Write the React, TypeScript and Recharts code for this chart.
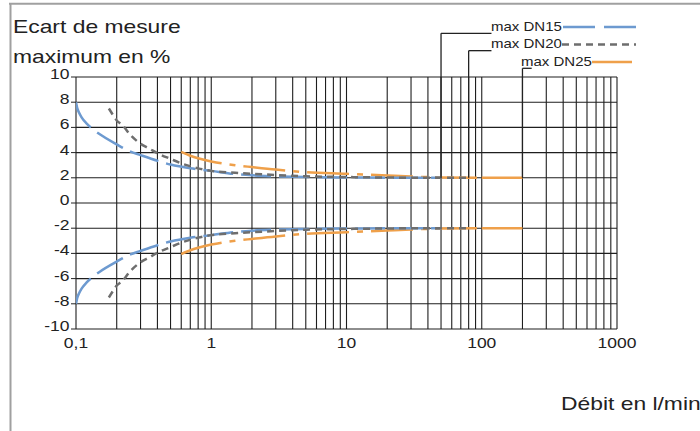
import React from "react";
import {
  LineChart,
  Line,
  XAxis,
  YAxis,
  CartesianGrid,
  ReferenceLine,
} from "recharts";

const FONT = '"Liberation Sans", Arial, Helvetica, sans-serif';

// grid positions on the log axis
const gridX = [
  0.1, 0.2, 0.3, 0.4, 0.5, 0.6, 0.7, 0.8, 0.9,
  1, 2, 3, 4, 5, 6, 7, 8, 9,
  10, 20, 30, 40, 50, 60, 70, 80, 90,
  100, 200, 300, 400, 500, 600, 700, 800, 900,
  1000,
];
const majorTicks = [0.1, 1, 10, 100, 1000];
const majorLabels = ["0,1", "1", "10", "100", "1000"];
const yTicks = [-10, -8, -6, -4, -2, 0, 2, 4, 6, 8, 10];

// DN15
const blueX = [0.1, 0.102, 0.105, 0.11, 0.12, 0.13, 0.15, 0.2, 0.25, 0.3, 0.4, 0.5, 0.7, 1, 1.5, 2, 3, 5, 10, 20, 50];
const blueUp = [8, 7.55, 7.2, 6.8, 6.3, 5.95, 5.45, 4.65, 4.1, 3.8, 3.35, 3.05, 2.75, 2.55, 2.3, 2.2, 2.12, 2.06, 2.03, 2.01, 2.0];
const blueDown = [-8, -7.55, -7.2, -6.8, -6.3, -5.95, -5.45, -4.65, -4.1, -3.8, -3.35, -3.05, -2.75, -2.55, -2.3, -2.2, -2.12, -2.06, -2.03, -2.01, -2.0];

// DN20
const grayX = [0.175, 0.19, 0.2, 0.22, 0.25, 0.3, 0.35, 0.4, 0.5, 0.6, 0.8, 1, 1.5, 2, 3, 5, 10, 20, 40, 80];
const grayUp = [7.5, 6.9, 6.55, 6.2, 5.45, 4.7, 4.3, 3.95, 3.5, 3.15, 2.75, 2.55, 2.4, 2.32, 2.22, 2.12, 2.06, 2.02, 2.0, 2.0];
const grayDown = [-7.5, -6.9, -6.55, -6.2, -5.45, -4.7, -4.3, -3.95, -3.5, -3.15, -2.75, -2.55, -2.4, -2.32, -2.22, -2.12, -2.06, -2.02, -2.0, -2.0];

// DN25
const orangeX = [0.6, 0.7, 0.8, 1, 1.5, 2, 3, 5, 10, 20, 30, 50, 100];
const orangeUp = [4.05, 3.75, 3.55, 3.3, 3.0, 2.85, 2.65, 2.45, 2.32, 2.18, 2.1, 2.03, 2.0];
const orangeDown = [-4.05, -3.75, -3.55, -3.3, -3.0, -2.85, -2.65, -2.45, -2.32, -2.18, -2.1, -2.03, -2.0];
const orangeTailX = [100, 200];
const orangeTailUp = [2, 2];
const orangeTailDown = [-2, -2];

const BLUE = "#6d9ad0";
const GRAY = "#6e6e6e";
const ORANGE = "#efa04a";
const INK = "#222";

const toPoints = (xs: number[], ys: number[]) => xs.map((x, i) => ({ x, y: ys[i] }));

const YTick = (props: any) => {
  const { x, y, payload } = props;
  return (
    <g transform={`translate(${x},${y + 2})`}>
      <text textAnchor="end" transform="scale(1.25,1)" fontSize={14} fill={INK} fontFamily={FONT}>
        {payload.value}
      </text>
    </g>
  );
};

const XTick = (props: any) => {
  const { x, y, payload } = props;
  const i = majorTicks.indexOf(payload.value);
  if (i < 0) return <g />;
  return (
    <g transform={`translate(${x},${y + 19})`}>
      <text textAnchor="middle" transform="scale(1.25,1)" fontSize={14} fill={INK} fontFamily={FONT}>
        {majorLabels[i]}
      </text>
    </g>
  );
};

export default function App() {
  const lineProps = { dataKey: "y", dot: false, activeDot: false, isAnimationActive: false, type: "monotone" as const, strokeWidth: 2.5 };
  const leader = { stroke: INK, strokeWidth: 1.3, ifOverflow: "visible" as const };
  return (
    <div style={{ position: "absolute", left: 0, top: 0, width: 700, height: 431, background: "#fff" }}>
      <LineChart width={700} height={431} margin={{ top: 77, right: 83, bottom: 72, left: 10 }}>
        <CartesianGrid stroke="#1e1e1e" strokeWidth={1.1} />
        <XAxis
          dataKey="x"
          type="number"
          scale="log"
          domain={[0.1, 1000]}
          ticks={gridX}
          interval={0}
          allowDataOverflow
          axisLine={false}
          tickLine={false}
          tickSize={0}
          tickMargin={0}
          height={30}
          tick={<XTick />}
        />
        <YAxis
          type="number"
          domain={[-10, 10]}
          ticks={yTicks}
          interval={0}
          allowDataOverflow
          axisLine={false}
          tickLine={{ stroke: INK }}
          tickSize={5}
          tickMargin={1.5}
          width={66}
          tick={<YTick />}
        />
        <Line {...lineProps} data={toPoints(orangeX, orangeUp)} stroke={ORANGE} strokeDasharray="42 8 6 8" />
        <Line {...lineProps} data={toPoints(orangeX, orangeDown)} stroke={ORANGE} strokeDasharray="42 8 6 8" />
        <Line {...lineProps} data={toPoints(orangeTailX, orangeTailUp)} stroke={ORANGE} />
        <Line {...lineProps} data={toPoints(orangeTailX, orangeTailDown)} stroke={ORANGE} />
        <Line {...lineProps} data={toPoints(blueX, blueUp)} stroke={BLUE} strokeDasharray="30 8" />
        <Line {...lineProps} data={toPoints(blueX, blueDown)} stroke={BLUE} strokeDasharray="30 8" />
        <Line {...lineProps} data={toPoints(grayX, grayUp)} stroke={GRAY} strokeDasharray="7 5" />
        <Line {...lineProps} data={toPoints(grayX, grayDown)} stroke={GRAY} strokeDasharray="7 5" />
        {/* leader lines from the legend labels down to the max flow */}
        <ReferenceLine {...leader} segment={[{ x: 50, y: 2 }, { x: 50, y: 13.47 }]} />
        <ReferenceLine {...leader} segment={[{ x: 50, y: 13.47 }, { x: 118, y: 13.47 }]} />
        <ReferenceLine {...leader} segment={[{ x: 80, y: 2 }, { x: 80, y: 12.09 }]} />
        <ReferenceLine {...leader} segment={[{ x: 80, y: 12.09 }, { x: 118, y: 12.09 }]} />
        <ReferenceLine {...leader} segment={[{ x: 200, y: 2 }, { x: 200, y: 10.69 }]} />
        <ReferenceLine {...leader} segment={[{ x: 200, y: 10.69 }, { x: 234, y: 10.69 }]} />
      </LineChart>
      <svg width={700} height={431} style={{ position: "absolute", left: 0, top: 0, pointerEvents: "none" }}>
        <line x1={9} y1={3.7} x2={700} y2={3.7} stroke="#a0a0a0" strokeWidth={2} />
        <line x1={10.5} y1={3} x2={10.5} y2={431} stroke="#a0a0a0" strokeWidth={2} />
        <g fontFamily={FONT} fill={INK}>
          <text transform="translate(13,33) scale(1.27,1)" fontSize={18}>Ecart de mesure</text>
          <text transform="translate(13,63) scale(1.27,1)" fontSize={18}>maximum en %</text>
          <text transform="translate(561,410) scale(1.27,1)" fontSize={18}>Débit en l/min</text>
          <text transform="translate(491,31) scale(1.2,1)" fontSize={12.5}>max DN15</text>
          <text transform="translate(491,47.5) scale(1.2,1)" fontSize={12.5}>max DN20</text>
          <text transform="translate(521,65.5) scale(1.2,1)" fontSize={12.5}>max DN25</text>
        </g>
        <line x1={563} y1={27} x2={636} y2={27} stroke={BLUE} strokeWidth={2.5} strokeDasharray="32 9" />
        <line x1={562} y1={44.5} x2={636} y2={44.5} stroke={GRAY} strokeWidth={2.5} strokeDasharray="7 5" />
        <line x1={592} y1={62} x2={632} y2={62} stroke={ORANGE} strokeWidth={2.5} />
      </svg>
    </div>
  );
}
